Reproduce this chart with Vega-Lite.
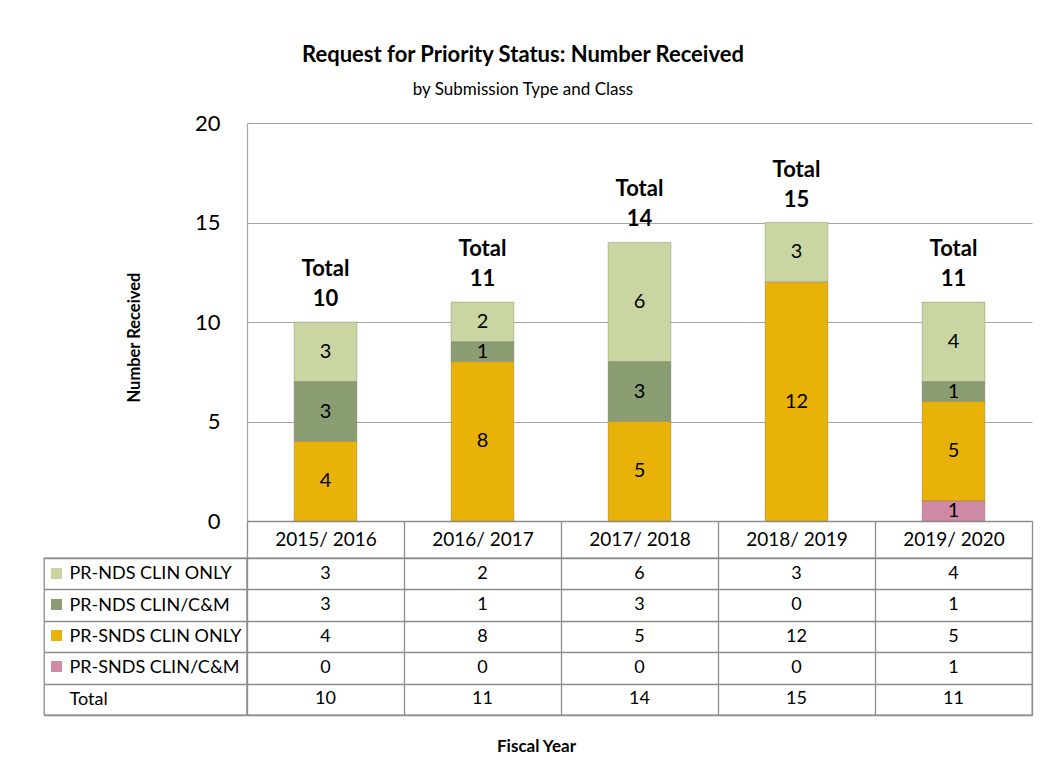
{
  "$schema": "https://vega.github.io/schema/vega-lite/v6.json",
  "background": "white",
  "padding": {"left": 43, "top": 44, "right": 10, "bottom": 10},
  "title": {
    "text": "Request for Priority Status: Number Received",
    "subtitle": "by Submission Type and Class",
    "anchor": "middle",
    "dx": -15,
    "offset": 13,
    "font": "Lato",
    "fontSize": 22,
    "fontWeight": "bold",
    "color": "black",
    "subtitleFont": "Lato",
    "subtitleFontSize": 17,
    "subtitleColor": "black",
    "subtitlePadding": 15
  },
  "data": {
    "values": [
      {"year": "2015/ 2016", "type": "PR-NDS CLIN ONLY", "count": 3},
      {"year": "2015/ 2016", "type": "PR-NDS CLIN/C&M", "count": 3},
      {"year": "2015/ 2016", "type": "PR-SNDS CLIN ONLY", "count": 4},
      {"year": "2015/ 2016", "type": "PR-SNDS CLIN/C&M", "count": 0},
      {"year": "2015/ 2016", "type": "Total", "count": 10},
      {"year": "2016/ 2017", "type": "PR-NDS CLIN ONLY", "count": 2},
      {"year": "2016/ 2017", "type": "PR-NDS CLIN/C&M", "count": 1},
      {"year": "2016/ 2017", "type": "PR-SNDS CLIN ONLY", "count": 8},
      {"year": "2016/ 2017", "type": "PR-SNDS CLIN/C&M", "count": 0},
      {"year": "2016/ 2017", "type": "Total", "count": 11},
      {"year": "2017/ 2018", "type": "PR-NDS CLIN ONLY", "count": 6},
      {"year": "2017/ 2018", "type": "PR-NDS CLIN/C&M", "count": 3},
      {"year": "2017/ 2018", "type": "PR-SNDS CLIN ONLY", "count": 5},
      {"year": "2017/ 2018", "type": "PR-SNDS CLIN/C&M", "count": 0},
      {"year": "2017/ 2018", "type": "Total", "count": 14},
      {"year": "2018/ 2019", "type": "PR-NDS CLIN ONLY", "count": 3},
      {"year": "2018/ 2019", "type": "PR-NDS CLIN/C&M", "count": 0},
      {"year": "2018/ 2019", "type": "PR-SNDS CLIN ONLY", "count": 12},
      {"year": "2018/ 2019", "type": "PR-SNDS CLIN/C&M", "count": 0},
      {"year": "2018/ 2019", "type": "Total", "count": 15},
      {"year": "2019/ 2020", "type": "PR-NDS CLIN ONLY", "count": 4},
      {"year": "2019/ 2020", "type": "PR-NDS CLIN/C&M", "count": 1},
      {"year": "2019/ 2020", "type": "PR-SNDS CLIN ONLY", "count": 5},
      {"year": "2019/ 2020", "type": "PR-SNDS CLIN/C&M", "count": 1},
      {"year": "2019/ 2020", "type": "Total", "count": 11}
    ]
  },
  "columns": 2,
  "spacing": {"row": 37, "column": 0},
  "bounds": "flush",
  "resolve": {"scale": {"x": "independent", "y": "independent"}},
  "concat": [
    {
      "width": 203,
      "height": 398,
      "data": {"values": []},
      "mark": {"type": "text"},
      "encoding": {}
    },
    {
      "width": 785,
      "height": 398,
      "layer": [
        {
          "transform": [{"filter": "datum.type != 'Total' && datum.count > 0"}],
          "mark": {"type": "bar", "width": {"band": 0.4}, "stroke": "#6f6f5a", "strokeWidth": 0.8, "strokeOpacity": 0.45},
          "encoding": {
            "x": {
              "field": "year", "type": "nominal", "sort": null,
              "scale": {"paddingInner": 0, "paddingOuter": 0},
              "axis": {
                "orient": "bottom", "title": null, "labelAngle": 0,
                "domain": true, "domainColor": "#8c8c8c", "domainWidth": 1.3,
                "ticks": true, "tickBand": "extent", "tickSize": 37, "tickColor": "#8c8c8c", "tickWidth": 1.3,
                "labelFontSize": 19, "labelPadding": -28, "labelColor": "black"
              }
            },
            "y": {
              "field": "count", "type": "quantitative", "stack": "zero",
              "scale": {"domain": [0, 20]},
              "axis": {
                "values": [0, 5, 10, 15, 20],
                "grid": true, "gridColor": "#a6a6a6", "gridWidth": 1.2,
                "domain": true, "domainColor": "#a6a6a6", "domainWidth": 1.2,
                "ticks": false, "tickSize": 0,
                "labelFontSize": 22, "labelPadding": 27, "labelColor": "black",
                "title": "Number Received", "titleFontSize": 16.5, "titleFontWeight": "bold",
                "titlePadding": 52, "titleY": 214, "titleColor": "black"
              }
            },
            "color": {
              "field": "type", "type": "nominal",
              "scale": {
                "domain": ["PR-NDS CLIN ONLY", "PR-NDS CLIN/C&M", "PR-SNDS CLIN ONLY", "PR-SNDS CLIN/C&M"],
                "range": ["#c9d6a2", "#8b9d73", "#e9b208", "#cf89a6"]
              },
              "legend": {
                "orient": "none", "legendX": 7, "legendY": 445, "title": null,
                "symbolType": "square", "symbolSize": 121, "symbolStrokeWidth": 0,
                "labelExpr": "''", "rowPadding": 20, "padding": 0
              }
            },
            "order": {"field": "type", "sort": "descending"}
          }
        },
        {
          "transform": [{"filter": "datum.type != 'Total' && datum.count > 0"}],
          "mark": {"type": "text", "fontSize": 20, "color": "black"},
          "encoding": {
            "x": {"field": "year", "type": "nominal", "sort": null},
            "y": {"field": "count", "type": "quantitative", "stack": "zero", "bandPosition": 0.5},
            "detail": {"field": "type"},
            "order": {"field": "type", "sort": "descending"},
            "text": {"field": "count"}
          }
        },
        {
          "transform": [{"filter": "datum.type == 'Total'"}],
          "mark": {"type": "text", "fontSize": 22, "fontWeight": "bold", "baseline": "alphabetic", "dy": -16, "color": "black"},
          "encoding": {
            "x": {"field": "year", "type": "nominal", "sort": null},
            "y": {"field": "count", "type": "quantitative", "stack": null},
            "text": {"field": "count"}
          }
        },
        {
          "transform": [{"filter": "datum.type == 'Total'"}],
          "mark": {"type": "text", "fontSize": 22, "fontWeight": "bold", "baseline": "alphabetic", "dy": -46, "color": "black"},
          "encoding": {
            "x": {"field": "year", "type": "nominal", "sort": null},
            "y": {"field": "count", "type": "quantitative", "stack": null},
            "text": {"value": "Total"}
          }
        }
      ]
    },
    {
      "width": 203,
      "height": 157,
      "view": {"stroke": "#8c8c8c", "strokeWidth": 1.3},
      "transform": [{"filter": "datum.year == '2015/ 2016'"}],
      "mark": {"type": "text", "text": ""},
      "encoding": {
        "y": {
          "field": "type", "type": "nominal",
          "sort": ["PR-NDS CLIN ONLY", "PR-NDS CLIN/C&M", "PR-SNDS CLIN ONLY", "PR-SNDS CLIN/C&M", "Total"],
          "scale": {"paddingInner": 0, "paddingOuter": 0},
          "axis": {
            "orient": "left", "title": null, "domain": false, "ticks": false, "tickSize": 0,
            "grid": true, "tickBand": "extent", "gridColor": "#8c8c8c", "gridWidth": 1.3,
            "labelAlign": "left", "labelBaseline": "middle", "labelPadding": -25,
            "labelFontSize": 18, "labelColor": "black"
          }
        }
      }
    },
    {
      "width": 785,
      "height": 157,
      "view": {"stroke": "#8c8c8c", "strokeWidth": 1.3},
      "mark": {"type": "text", "fontSize": 18, "color": "black"},
      "encoding": {
        "x": {
          "field": "year", "type": "nominal", "sort": null,
          "scale": {"paddingInner": 0, "paddingOuter": 0},
          "axis": {
            "labels": false, "ticks": false, "tickSize": 0, "domain": false,
            "grid": true, "tickBand": "extent", "gridColor": "#8c8c8c", "gridWidth": 1.3,
            "title": "Fiscal Year", "titleFontSize": 17, "titleFontWeight": "bold",
            "titlePadding": 23, "titleX": 289, "titleColor": "black"
          }
        },
        "y": {
          "field": "type", "type": "nominal",
          "sort": ["PR-NDS CLIN ONLY", "PR-NDS CLIN/C&M", "PR-SNDS CLIN ONLY", "PR-SNDS CLIN/C&M", "Total"],
          "scale": {"paddingInner": 0, "paddingOuter": 0},
          "axis": {
            "labels": false, "ticks": false, "tickSize": 0, "domain": false,
            "grid": true, "tickBand": "extent", "gridColor": "#8c8c8c", "gridWidth": 1.3,
            "title": null
          }
        },
        "text": {"field": "count"}
      }
    }
  ],
  "config": {
    "font": "Lato",
    "view": {"stroke": null},
    "axis": {"labelFont": "Lato", "titleFont": "Lato"},
    "text": {"font": "Lato"},
    "legend": {"labelFont": "Lato"}
  }
}
